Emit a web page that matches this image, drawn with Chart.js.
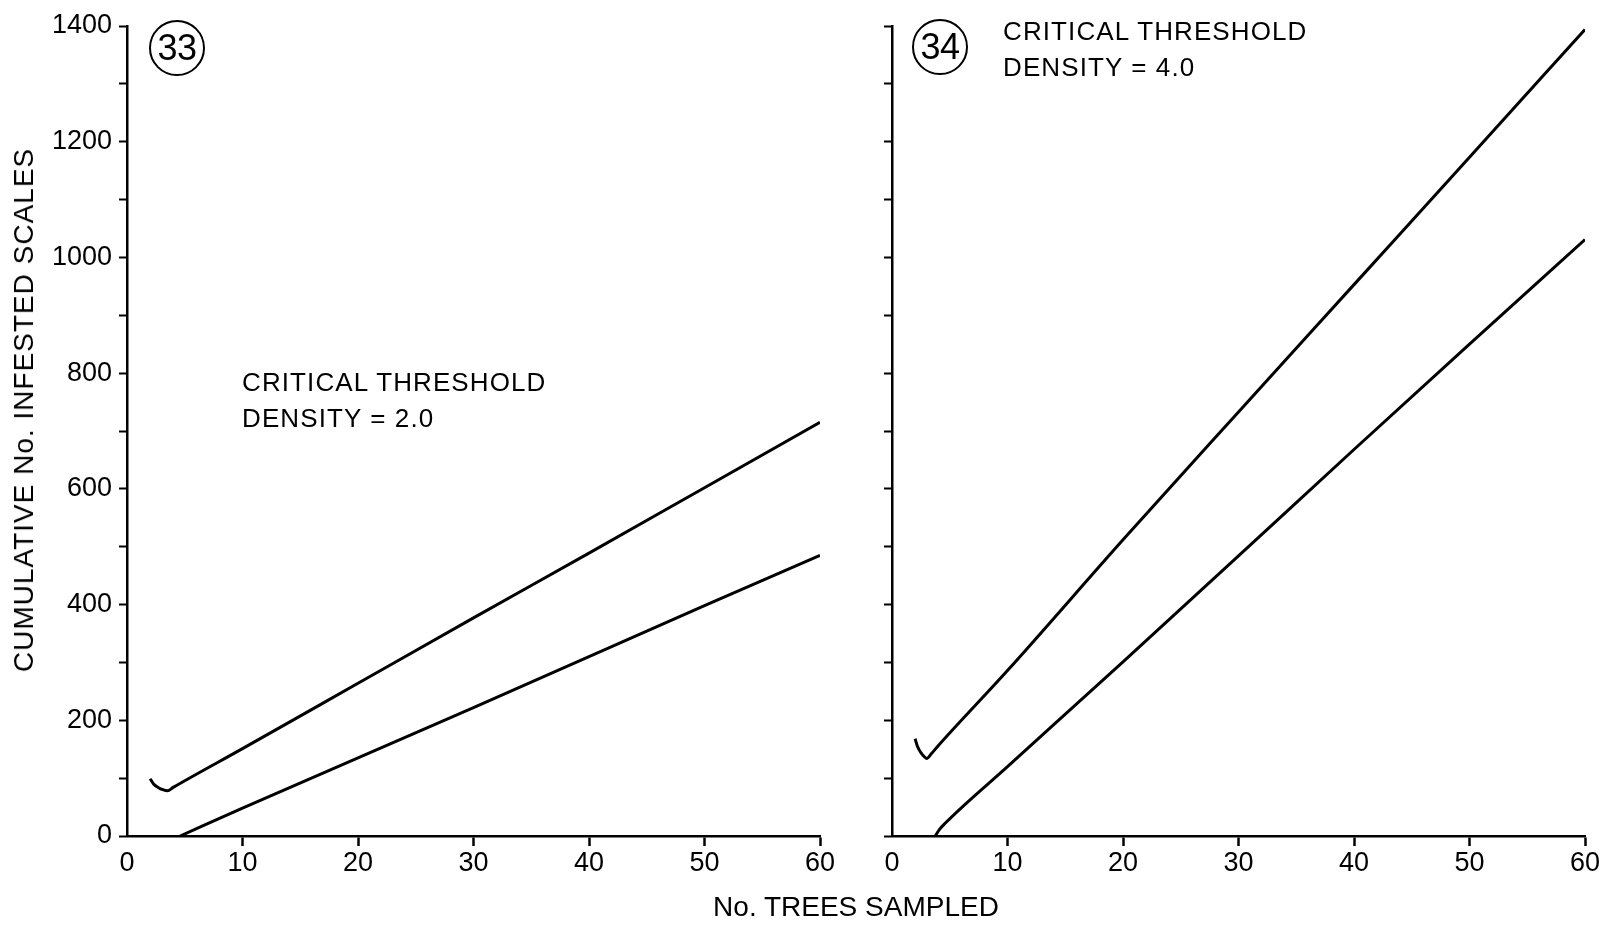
<!DOCTYPE html>
<html>
<head>
<meta charset="utf-8">
<title>Cumulative infested scales by trees sampled</title>
<script src="https://cdn.jsdelivr.net/npm/chart.js@4/dist/chart.umd.min.js"></script>
<style>
  body { margin: 0; background: #fff; font-family: "Liberation Sans", Arial, sans-serif; color: #000; }
  #wrap { position: relative; width: 1619px; height: 926px; overflow: hidden; }
  canvas { position: absolute; top: 0; }
  #chart33 { left: 0; }
  #chart34 { left: 850px; }
  .circled {
    position: absolute; width: 56px; height: 56px; box-sizing: border-box;
    border: 2px solid #000; border-radius: 50%;
    font-size: 36px; line-height: 52px; text-align: center; letter-spacing: -0.5px;
    transform: translate(-50%, -50%);
  }
  .note { position: absolute; font-size: 26px; line-height: 35.5px; letter-spacing: 1.1px; white-space: nowrap; }
  #yTitle {
    position: absolute; left: 24px; top: 410px; font-size: 28px; letter-spacing: 1px;
    white-space: nowrap; transform: translate(-50%, -50%) rotate(-90deg);
  }
  #xTitle { position: absolute; left: 856px; top: 907px; font-size: 28px; white-space: nowrap; transform: translate(-50%, -50%); }
</style>
</head>
<body>
<div id="wrap">
  <canvas id="chart33" width="850" height="926"></canvas>
  <canvas id="chart34" width="769" height="926"></canvas>
  <div class="circled" style="left:177px; top:48px;">33</div>
  <div class="circled" style="left:940px; top:47px;">34</div>
  <div class="note" style="left:242px; top:365px;">CRITICAL THRESHOLD<br>DENSITY = 2.0</div>
  <div class="note" style="left:1003px; top:14px;">CRITICAL THRESHOLD<br>DENSITY = 4.0</div>
  <div id="yTitle">CUMULATIVE No. INFESTED SCALES</div>
  <div id="xTitle">No. TREES SAMPLED</div>
</div>
<script>
// axis ticks
const xTickValues = [0, 10, 20, 30, 40, 50, 60];
const yTickValues = [0, 100, 200, 300, 400, 500, 600, 700, 800, 900, 1000, 1100, 1200, 1300, 1400];
const yLabelValues = [0, 200, 400, 600, 800, 1000, 1200, 1400];

// panel 33 - critical threshold density 2.0
const upper33Trees = [2.0, 2.3, 2.7, 3.1, 3.5, 4.0, 10, 20, 30, 40, 50, 60];
const upper33Scales = [99, 90, 84, 80, 78, 84, 151, 264, 377, 489, 602, 715];
const lower33Trees = [4.6, 10, 20, 30, 40, 50, 60];
const lower33Scales = [0, 48, 135, 222, 310, 398, 485];

// panel 34 - critical threshold density 4.0
const upper34Trees = [2.0, 2.2, 2.5, 2.8, 3.0, 3.4, 4.0, 10, 20, 30, 40, 50, 60];
const upper34Scales = [168, 155, 144, 137, 134, 142, 156, 286, 512, 733, 953, 1173, 1394];
const lower34Trees = [3.75, 4.1, 4.6, 10, 20, 30, 40, 50, 60];
const lower34Scales = [0, 11, 22, 120, 301, 484, 668, 850, 1031];

Chart.defaults.font.family = '"Liberation Sans", Arial, sans-serif';
Chart.defaults.color = "#000";

function toPoints(xs, ys) {
  return xs.map((x, i) => ({ x: x, y: ys[i] }));
}

function makePanel(canvasId, series, showYLabels, yAxisWidth, padRight) {
  return new Chart(document.getElementById(canvasId), {
    type: "line",
    data: {
      datasets: series.map((s) => ({
        data: toPoints(s[0], s[1]),
        borderColor: "#000",
        borderWidth: 3,
        pointRadius: 0,
        cubicInterpolationMode: "monotone",
        fill: false,
      })),
    },
    options: {
      responsive: false,
      animation: false,
      events: [],
      layout: { padding: { top: 26, right: padRight, bottom: 0, left: 0 } },
      plugins: { legend: { display: false }, tooltip: { enabled: false } },
      scales: {
        x: {
          type: "linear",
          min: 0,
          max: 60,
          afterBuildTicks: (scale) => {
            scale.ticks = xTickValues.map((v) => ({ value: v }));
          },
          afterFit: (scale) => {
            scale.height = 90;
          },
          border: { display: true, color: "#000", width: 2.5 },
          grid: {
            drawOnChartArea: false,
            drawTicks: true,
            tickLength: 10,
            tickWidth: 2.5,
            tickColor: (ctx) => (ctx.tick && ctx.tick.value === 0 ? "rgba(0,0,0,0)" : "#000"),
          },
          ticks: { font: { size: 27 }, padding: 1, maxRotation: 0, autoSkip: false },
        },
        y: {
          type: "linear",
          min: 0,
          max: 1400,
          afterBuildTicks: (scale) => {
            scale.ticks = yTickValues.map((v) => ({ value: v }));
          },
          afterFit: (scale) => {
            scale.width = yAxisWidth;
          },
          border: { display: true, color: "#000", width: 2.5 },
          grid: { drawOnChartArea: false, drawTicks: true, tickLength: 8, tickWidth: 2, tickColor: "#000" },
          ticks: {
            font: { size: 27 },
            padding: 7,
            autoSkip: false,
            callback: (v) => (showYLabels && yLabelValues.includes(v) ? String(v) : ""),
          },
        },
      },
    },
  });
}

// Left panel
makePanel("chart33", [[upper33Trees, upper33Scales], [lower33Trees, lower33Scales]], true, 127, 30);

// Right panel
makePanel("chart34", [[upper34Trees, upper34Scales], [lower34Trees, lower34Scales]], false, 42, 34);
</script>
</body>
</html>
